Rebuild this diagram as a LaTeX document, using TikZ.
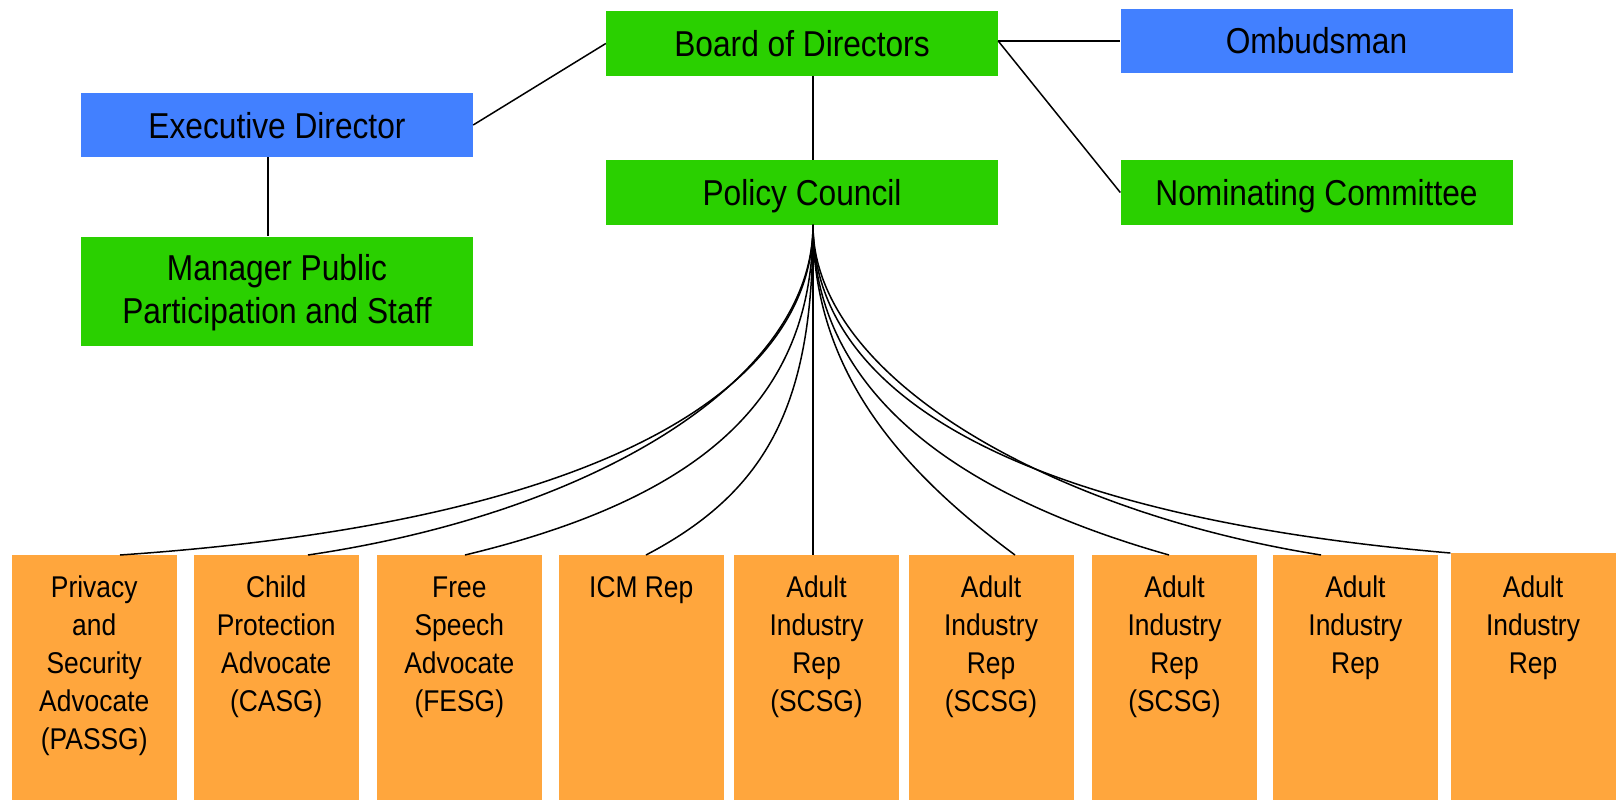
\documentclass[tikz,border=0pt]{standalone}
\usepackage{fontspec}
\setmainfont{Liberation Sans}[FakeStretch=0.88]
\definecolor{cgreen}{RGB}{42,208,0}
\definecolor{cblue}{RGB}{66,128,255}
\definecolor{corange}{RGB}{255,166,61}
\tikzset{
  box/.style={rectangle, inner sep=0pt, minimum width=392pt, minimum height=64.5pt,
    text height=26pt, text depth=0pt, font=\fontsize{36}{43}\selectfont, align=center},
  mbox/.style={rectangle, inner sep=0pt, minimum width=392pt, minimum height=109pt,
    font=\fontsize{36}{43}\selectfont, align=center},
  obox/.style={rectangle, fill=corange, inner sep=0pt, minimum width=165pt,
    minimum height=250pt, anchor=north},
  otext/.style={font=\fontsize{30}{38}\selectfont, align=center, anchor=north, inner sep=0pt},
  conn/.style={line width=1.5pt, black},
}
\begin{document}
\begin{tikzpicture}[x=1pt,y=-1pt]
\useasboundingbox[fill=white] (0,0) rectangle (1619,800);

% top boxes
\node[box, fill=cgreen] (bd) at (802,43.5) {Board of Directors};
\node[box, fill=cblue]  (om) at (1316.5,41) {Ombudsman};
\node[box, fill=cblue]  (ed) at (277,125) {Executive Director};
\node[box, fill=cgreen] (pc) at (802,192.5) {Policy Council};
\node[box, fill=cgreen] (nc) at (1316.5,192.5) {Nominating Committee};
\node[mbox, fill=cgreen] (mg) at (277,291) {\strut Manager Public\\Participation and Staff};

% bottom boxes
\node[obox] (b1) at (94.25,555) {};
\node[obox] (b2) at (276.25,555) {};
\node[obox] (b3) at (459.3,555) {};
\node[obox] (b4) at (641.3,555) {};
\node[obox] (b5) at (816.5,555) {};
\node[obox] (b6) at (991,555) {};
\node[obox] (b7) at (1174.5,555) {};
\node[obox] (b8) at (1355.4,555) {};
\node[obox] (b9) at (1533,553) {};

\node[otext] (t1) at ([yshift=-15.4pt]b1.north) {\strut Privacy\\and\\Security\\Advocate\\(PASSG)};
\node[otext] (t2) at ([yshift=-15.4pt]b2.north) {\strut Child\\Protection\\Advocate\\(CASG)};
\node[otext] (t3) at ([yshift=-15.4pt]b3.north) {\strut Free\\Speech\\Advocate\\(FESG)};
\node[otext] (t4) at ([yshift=-15.4pt]b4.north) {\strut ICM Rep};
\node[otext] (t5) at ([yshift=-15.4pt]b5.north) {\strut Adult\\Industry\\Rep\\(SCSG)};
\node[otext] (t6) at ([yshift=-15.4pt]b6.north) {\strut Adult\\Industry\\Rep\\(SCSG)};
\node[otext] (t7) at ([yshift=-15.4pt]b7.north) {\strut Adult\\Industry\\Rep\\(SCSG)};
\node[otext] (t8) at ([yshift=-15.4pt]b8.north) {\strut Adult\\Industry\\Rep};
\node[otext] (t9) at ([yshift=-17.4pt]b9.north) {\strut Adult\\Industry\\Rep};

% straight connectors
\draw[conn] (ed.east) -- (bd.west);
\draw[conn] (bd.east |- om.west) -- (om.west);
\draw[conn] (bd.east |- om.west) -- (nc.west);
\draw[conn] ([xshift=11pt]bd.south) -- ([xshift=11pt]pc.north);
\draw[conn] ([xshift=-9pt]ed.south) -- ([xshift=-9pt]mg.north);

% fan from Policy Council
\coordinate (hub) at ([xshift=11pt]pc.south);
\draw[conn] (hub) .. controls +(0,156) and +(500,-34) .. ([xshift=25.75pt]b1.north);
\draw[conn] (hub) .. controls +(0,156) and +(285,-42) .. ([xshift=31.75pt]b2.north);
\draw[conn] (hub) .. controls +(0,165) and +(250,-60) .. ([xshift=5.7pt]b3.north);
\draw[conn] (hub) .. controls +(0,176) and +(124,-65) .. ([xshift=4.7pt]b4.north);
\draw[conn] (hub) -- (hub |- b5.north);
\draw[conn] (hub) .. controls +(0,146) and +(-115,-85) .. ([xshift=24pt]b6.north);
\draw[conn] (hub) .. controls +(0,150) and +(-240,-68) .. ([xshift=-5.5pt]b7.north);
\draw[conn] (hub) .. controls +(0,155) and +(-265,-42) .. ([xshift=-34.4pt]b8.north);
\draw[conn] (hub) .. controls +(0,155) and +(-465,-40) .. (b9.north west);
\end{tikzpicture}
\end{document}
